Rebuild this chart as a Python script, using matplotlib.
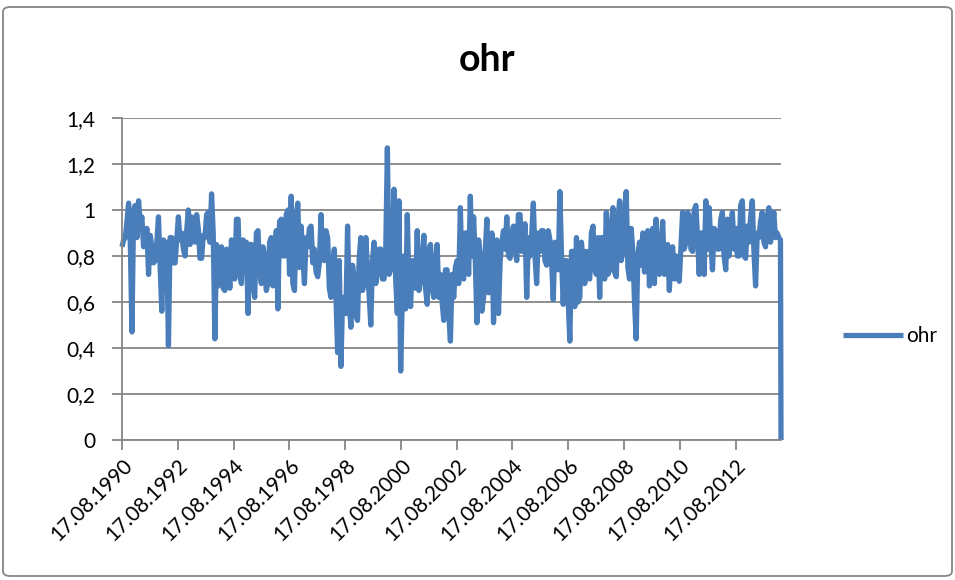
import pandas as pd
import matplotlib
matplotlib.use('Agg')
import matplotlib.pyplot as plt
from matplotlib.ticker import FuncFormatter
from matplotlib.patches import FancyBboxPatch

plt.rcParams['font.family'] = ['Lato', 'DejaVu Sans']

# series, evenly spaced between the first and last date.
# ohr_a: value read at each step, ohr_b: the opposite edge of the band
# at the same step (the weekly data swings between the two)
start_date = '1990-08-17'
last_date = '2014-03-28'
end_date = '2014-04-04'   # final zero value
ohr_a = [
    0.84, 0.88, 1.03, 0.47, 1.02, 1.04, 0.97, 0.86, 0.72, 0.84,
    0.78, 0.97, 0.56, 0.80, 0.41, 0.88, 0.77, 0.97, 0.90, 0.80,
    1.00, 0.97, 0.86, 0.92, 0.79, 0.88, 0.99, 1.07, 0.44, 0.67,
    0.84, 0.65, 0.80, 0.87, 0.70, 0.96, 0.68, 0.79, 0.55, 0.85,
    0.62, 0.91, 0.68, 0.80, 0.68, 0.88, 0.70, 0.57, 0.96, 0.80,
    1.00, 1.06, 0.65, 1.03, 0.93, 0.68, 0.84, 0.93, 0.83, 0.71,
    0.98, 0.78, 0.88, 0.62, 0.83, 0.38, 0.32, 0.62, 0.93, 0.49,
    0.70, 0.52, 0.88, 0.68, 0.74, 0.50, 0.86, 0.73, 0.83, 0.70,
    1.27, 0.74, 1.09, 0.55, 0.30, 0.80, 0.98, 0.58, 0.74, 0.91,
    0.69, 0.89, 0.59, 0.85, 0.62, 0.85, 0.72, 0.52, 0.74, 0.43,
    0.62, 0.78, 1.01, 0.70, 0.90, 1.06, 0.97, 0.51, 0.80, 0.62,
    0.96, 0.70, 0.51, 0.87, 0.78, 0.91, 0.97, 0.79, 0.93, 0.78,
    0.98, 0.84, 0.62, 0.80, 1.03, 0.68, 0.82, 0.91, 0.76, 0.87,
    0.61, 0.80, 1.08, 0.59, 0.78, 0.43, 0.82, 0.88, 0.62, 0.78,
    0.82, 0.70, 0.93, 0.72, 0.62, 0.88, 0.99, 0.74, 1.01, 0.71,
    1.04, 0.82, 1.08, 0.70, 0.82, 0.44, 0.86, 0.90, 0.80, 0.67,
    0.92, 0.96, 0.72, 0.95, 0.74, 0.65, 0.84, 0.80, 0.69, 0.99,
    0.86, 0.97, 0.82, 1.02, 0.72, 0.90, 1.04, 1.01, 0.74, 0.91,
    0.83, 0.99, 0.74, 0.80, 0.99, 0.92, 0.80, 1.04, 0.79, 0.86,
    1.04, 0.67, 0.88, 0.99, 0.84, 1.01, 0.92, 0.88, 0.88,
]
ohr_b = [
    0.87, 0.95, 0.86, 1.00, 0.88, 0.94, 0.84, 0.92, 0.89, 0.77,
    0.86, 0.75, 0.87, 0.86, 0.88, 0.77, 0.87, 0.87, 0.83, 0.91,
    0.85, 0.88, 0.98, 0.79, 0.89, 0.98, 0.86, 0.90, 0.85, 0.80,
    0.66, 0.83, 0.66, 0.72, 0.96, 0.72, 0.87, 0.86, 0.85, 0.68,
    0.90, 0.74, 0.84, 0.65, 0.86, 0.67, 0.91, 0.95, 0.80, 0.98,
    0.72, 0.68, 0.97, 0.75, 0.80, 0.88, 0.92, 0.77, 0.73, 0.77,
    0.79, 0.91, 0.66, 0.76, 0.62, 0.78, 0.62, 0.55, 0.60, 0.76,
    0.54, 0.79, 0.65, 0.88, 0.63, 0.78, 0.68, 0.83, 0.70, 0.82,
    0.72, 0.83, 0.70, 1.04, 0.62, 0.57, 0.67, 0.78, 0.66, 0.65,
    0.78, 0.66, 0.83, 0.66, 0.78, 0.62, 0.60, 0.74, 0.55, 0.72,
    0.75, 0.68, 0.72, 0.90, 0.72, 0.80, 0.78, 0.87, 0.56, 0.82,
    0.64, 0.90, 0.80, 0.55, 0.86, 0.83, 0.80, 0.90, 0.83, 0.98,
    0.82, 0.94, 0.88, 0.89, 0.80, 0.90, 0.91, 0.78, 0.91, 0.78,
    0.86, 0.74, 0.80, 0.78, 0.60, 0.82, 0.58, 0.60, 0.86, 0.68,
    0.72, 0.90, 0.74, 0.88, 0.88, 0.70, 0.72, 0.93, 0.73, 0.95,
    0.78, 1.00, 0.75, 0.92, 0.60, 0.80, 0.76, 0.73, 0.91, 0.82,
    0.68, 0.74, 0.86, 0.72, 0.85, 0.80, 0.70, 0.71, 0.84, 0.83,
    0.99, 0.83, 1.00, 0.88, 0.90, 0.72, 0.83, 0.86, 0.92, 0.83,
    0.96, 0.80, 0.96, 0.92, 0.83, 0.80, 1.02, 0.80, 0.93, 0.97,
    0.82, 0.90, 0.95, 0.86, 0.97, 0.86, 0.99, 0.90, 0.87,
]
ohr_end = 0.0

tick_years = list(range(1990, 2013, 2))
y_ticks = [0, 0.2, 0.4, 0.6, 0.8, 1.0, 1.2, 1.4]

values = [v for pair in zip(ohr_a, ohr_b) for v in pair] + [ohr_end]
dates = pd.date_range(start_date, last_date, periods=len(values) - 1)
dates = dates.append(pd.DatetimeIndex([end_date]))
tick_dates = pd.to_datetime(['17.08.%d' % y for y in tick_years], format='%d.%m.%Y')

grey = '#868686'
blue = '#4A7EBB'

fig = plt.figure(figsize=(9.55, 5.8), dpi=100)
ax = fig.add_axes([122 / 955, 140 / 580, 659 / 955, 322 / 580])

# not clipped, so the first point and the final drop keep their full width
ax.plot(dates, values, color=blue, lw=3.8, solid_joinstyle='round',
        solid_capstyle='butt', label='ohr', clip_on=False)

ax.set_xlim(dates[0], dates[-1])
ax.set_ylim(0, 1.4)
ax.set_yticks(y_ticks)
ax.yaxis.set_major_formatter(FuncFormatter(lambda v, _: ('%g' % round(v, 1)).replace('.', ',')))
ax.set_xticks(tick_dates)
ax.set_xticklabels([d.strftime('%d.%m.%Y') for d in tick_dates],
                   rotation=45, ha='right', rotation_mode='anchor')

ax.yaxis.grid(True, color=grey, lw=1.3)
ax.set_axisbelow(True)
for s in ['top', 'right']:
    ax.spines[s].set_visible(False)
for s in ['left', 'bottom']:
    ax.spines[s].set_color(grey)
    ax.spines[s].set_linewidth(1.3)
ax.tick_params(axis='both', direction='out', length=7, width=1.3, color=grey,
               labelsize=15, pad=4)
ax.tick_params(axis='y', pad=12)

fig.text(487 / 955, 1 - 60 / 580, 'ohr', ha='center', va='center',
         fontsize=27, fontweight='bold')

ax.legend(loc='center left', bbox_to_anchor=(843 / 955, 1 - 336 / 580),
          bbox_transform=fig.transFigure, frameon=False, handlelength=2.9,
          handletextpad=0.15, fontsize=15, borderpad=0, borderaxespad=0)

fig.patches.append(FancyBboxPatch((3 / 955, 4 / 580), 949 / 955, 569 / 580,
                                  boxstyle='round,pad=0,rounding_size=0.008',
                                  transform=fig.transFigure, fill=False,
                                  edgecolor=grey, lw=1.3))

fig.savefig('out.png', dpi=100)
